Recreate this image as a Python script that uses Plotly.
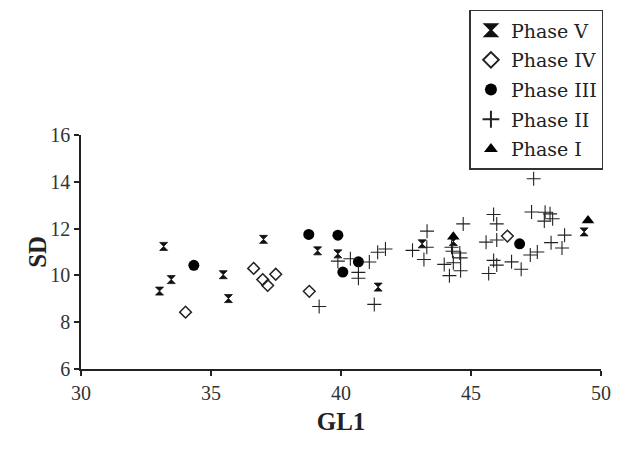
import plotly.graph_objects as go

# Phase V
p5_x = [33.18, 33.47, 33.02, 35.47, 35.67, 37.02, 39.1, 39.88, 41.43, 43.12, 44.32, 49.35]
p5_y = [11.24, 9.82, 9.33, 10.03, 9.01, 11.54, 11.05, 10.92, 9.5, 11.35, 11.45, 11.86]
# Phase IV
p4_x = [34.02, 36.64, 36.99, 37.18, 37.49, 38.78, 46.4]
p4_y = [8.43, 10.3, 9.82, 9.57, 10.05, 9.32, 11.68]
# Phase III
p3_x = [34.34, 38.76, 39.88, 40.67, 40.07, 46.87]
p3_y = [10.43, 11.75, 11.72, 10.58, 10.14, 11.35]
# Phase II
p2_x = [39.88, 40.36, 40.67, 40.67, 41.09, 41.41, 41.71, 41.28, 39.16,
        42.75, 43.31, 43.3, 43.19,
        44.7, 44.25, 44.29, 44.57, 44.6, 43.97, 44.32, 44.6, 44.17,
        45.58, 45.99, 45.87, 45.99, 45.68, 45.99, 45.87,
        46.56, 46.93, 47.28, 47.55,
        47.41, 47.33, 47.85, 48.04, 47.82, 48.14, 48.6, 48.08, 48.5]
p2_y = [10.61, 10.71, 10.13, 9.88, 10.57, 10.99, 11.13, 8.76, 8.67,
        11.07, 11.89, 11.2, 10.68,
        12.2, 11.2, 11.03, 10.96, 10.75, 10.47, 10.54, 10.2, 9.99,
        11.42, 11.51, 10.64, 10.44, 10.08, 12.2, 12.6,
        10.58, 10.26, 10.87, 11.0,
        14.13, 12.71, 12.7, 12.63, 12.32, 12.42, 11.72, 11.4, 11.17]
# Phase I
p1_x = [44.32, 49.5]
p1_y = [11.65, 12.35]

x_ticks = [30, 35, 40, 45, 50]
y_ticks = [6, 8, 10, 12, 14, 16]

FONT = "Liberation Serif, DejaVu Serif, serif"
LFONT = "DejaVu Serif, Liberation Serif, serif"

fig = go.Figure()
fig.add_trace(go.Scatter(x=p5_x, y=p5_y, mode="markers", name="Phase V", legendgroup="5",
                         marker=dict(symbol="hourglass", size=8, color="#111",
                                     line=dict(width=0.8, color="#111"))))
fig.add_trace(go.Scatter(x=p4_x, y=p4_y, mode="markers", name="Phase IV", legendgroup="4",
                         marker=dict(symbol="diamond-open", size=9, color="#222",
                                     line=dict(width=1.5, color="#222"))))
fig.add_trace(go.Scatter(x=p3_x, y=p3_y, mode="markers", name="Phase III", legendgroup="3",
                         marker=dict(symbol="circle", size=11, color="#000")))
fig.add_trace(go.Scatter(x=p2_x, y=p2_y, mode="markers", name="Phase II", legendgroup="2",
                         marker=dict(symbol="cross-thin", size=10, color="#222",
                                     line=dict(width=1.1, color="#222"))))
fig.add_trace(go.Scatter(x=p1_x, y=p1_y, mode="markers", name="Phase I", legendgroup="1",
                         marker=dict(symbol="triangle-up", size=11, color="#000")))

fig.update_layout(
    width=621, height=450,
    margin=dict(l=81, r=10, t=129, b=81),
    paper_bgcolor="white", plot_bgcolor="white",
    font=dict(family=FONT, color="#222", size=17),
    showlegend=True,
    legend=dict(x=0.747, y=1.535, xanchor="left", yanchor="top",
                bordercolor="#333", borderwidth=1.5, bgcolor="white",
                font=dict(family=LFONT, size=19, color="#222"),
                traceorder="grouped", tracegroupgap=2,
                itemsizing="constant"),
    annotations=[dict(text="<b>SD</b>", xref="paper", yref="paper",
                      x=-0.085, y=0.5, xanchor="center", yanchor="middle",
                      textangle=-90, showarrow=False,
                      font=dict(family=FONT, size=25, color="#222"))],
)
fig.update_xaxes(range=[30, 50], tickvals=x_ticks, ticktext=[str(v) for v in x_ticks],
                 showgrid=False, zeroline=False, showline=True, linecolor="#222", linewidth=1.5,
                 ticks="outside", ticklen=5, tickwidth=1.5, tickcolor="#222",
                 tickfont=dict(family=FONT, size=20, color="#333"),
                 title=dict(text="<b>GL1</b>", font=dict(family=FONT, size=25, color="#222"), standoff=10))
fig.update_yaxes(range=[6, 16], tickvals=y_ticks, ticktext=[str(v) for v in y_ticks],
                 showgrid=False, zeroline=False, showline=True, linecolor="#222", linewidth=1.5,
                 ticks="outside", ticklen=5, tickwidth=1.5, tickcolor="#222",
                 tickfont=dict(family=FONT, size=20, color="#333"))

fig.write_html("out.html")
